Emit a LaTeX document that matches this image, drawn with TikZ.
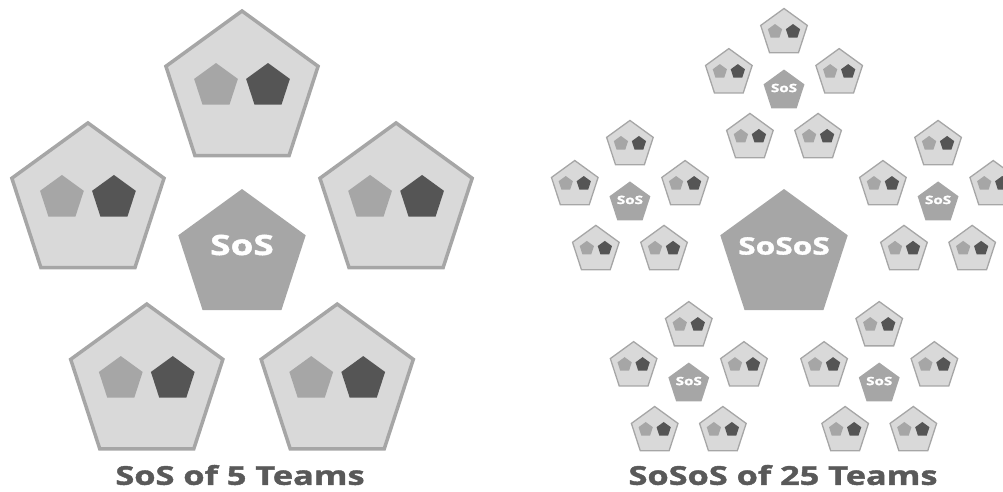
\documentclass[tikz,border=0pt]{standalone}
\usepackage{fontspec}
\setmainfont{Open Sans}
\newfontfamily\wideopen{Open Sans}[FakeStretch=1.32, BoldFeatures={FakeBold=1.6}]
\usetikzlibrary{shapes.geometric}

\definecolor{teamgrey}{HTML}{D9D9D9}
\definecolor{sosgrey}{HTML}{A6A6A6}
\definecolor{devgrey}{HTML}{555555}
\definecolor{titlegrey}{HTML}{595959}

\tikzset{
  pent/.style={regular polygon, regular polygon sides=5, inner sep=0pt, outer sep=0pt},
  bigteam/.style={pent, fill=teamgrey, draw=sosgrey, line width=3.5pt, minimum size=160pt},
  bigsos/.style={pent, fill=sosgrey, minimum size=134pt},
  bigdev/.style={pent, minimum size=46pt},
  miniteam/.style={pent, fill=teamgrey, draw=sosgrey, line width=1.3pt, minimum size=49pt},
  minisos/.style={pent, fill=sosgrey, minimum size=43pt},
  minidev/.style={pent, minimum size=15pt},
  sostext/.style={text=white, inner sep=0pt, font=\wideopen\bfseries#1},
  sostext/.default=\fontsize{28}{30}\selectfont,
  titletext/.style={text=titlegrey, inner sep=0pt, font=\wideopen\bfseries\fontsize{26}{30}\selectfont}
}

\begin{document}
\begin{tikzpicture}[x=1pt,y=-1pt]
  \useasboundingbox (0,0) rectangle (1003,491);

  % SoS of 5 teams
  \begin{scope}[shift={(242,253)}]
    \node [bigsos] (lsos) at (0,3) {};
    \node [sostext] (lsoslabel) at (0,-8) {SoS};
    \foreach \a [count=\i] in {-90,-18,54,126,198} {
      \begin{scope}[shift={(\a:162)}]
        \node [bigteam] (lteam\i) at (0,0) {};
        \node [bigdev, fill=sosgrey] (lteam\i a) at (-26,-5) {};
        \node [bigdev, fill=devgrey] (lteam\i b) at (26,-5) {};
      \end{scope}
    }
  \end{scope}
  \node [titletext] (ltitle) at (240,475) {SoS of 5 Teams};

  % SoSoS of 25 teams
  \begin{scope}[shift={(784,253)}]
    \node [bigsos] (rsos) at (0,3) {};
    \node [sostext=\fontsize{24}{28}\selectfont] (rsoslabel) at (0,-7) {SoSoS};
    \foreach \a [count=\i] in {-90,-18,54,126,198} {
      \begin{scope}[shift={(\a:162)}]
        \node [minisos] (r\i sos) at (0,0) {};
        \node [sostext=\fontsize{11.5}{13}\selectfont] (r\i soslabel) at (0,-3) {SoS};
        \foreach \b [count=\j] in {-90,-18,54,126,198} {
          \begin{scope}[shift={(\b:58)}]
            \node [miniteam] (r\i t\j) at (0,0) {};
            \node [minidev, fill=sosgrey] (r\i t\j a) at (-9,-1.5) {};
            \node [minidev, fill=devgrey] (r\i t\j b) at (9,-1.5) {};
          \end{scope}
        }
      \end{scope}
    }
  \end{scope}
  \node [titletext] (rtitle) at (783,475) {SoSoS of 25 Teams};
\end{tikzpicture}
\end{document}
